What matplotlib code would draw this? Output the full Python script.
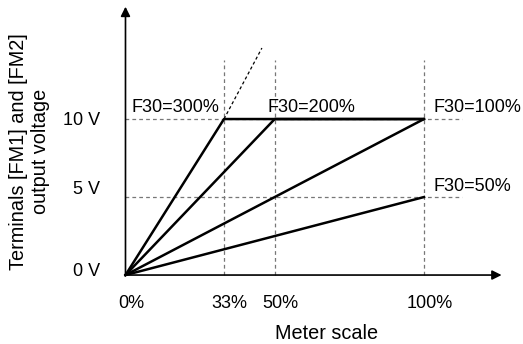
import matplotlib
matplotlib.use("Agg")
from matplotlib import pyplot as plt

plt.rcParams["font.family"] = ["Liberation Sans", "DejaVu Sans"]

# meter scale (%) vs output voltage (V) for each F30 setting
ticks_x = [0, 33, 50, 100]
tick_labels_x = ["0%", "33%", "50%", "100%"]
ticks_y = [0, 5, 10]
tick_labels_y = ["0 V", "5 V", "10 V"]

f30_300_x = [0, 33, 100]
f30_300_y = [0, 10, 10]
f30_300_ext_x = [33, 45.7]
f30_300_ext_y = [10, 14.55]
f30_200_x = [0, 50, 100]
f30_200_y = [0, 10, 10]
f30_100_x = [0, 100]
f30_100_y = [0, 10]
f30_50_x = [0, 100]
f30_50_y = [0, 5]

fig = plt.figure(figsize=(5.23, 3.44), dpi=100)
ax = fig.add_axes([0, 0, 1, 1])
ax.set_xlim(-42.04, 133.17)
ax.set_ylim(-4.42, 17.63)
ax.axis("off")

# dashed guide lines
grey = "#777777"
for v in [5, 10]:
    ax.plot([0, 112.8], [v, v], color=grey, lw=0.9, ls=(0, (3, 2.5)))
for t in [33, 50, 100]:
    ax.plot([t, t], [0, 13.8], color=grey, lw=0.9, ls=(0, (3, 2.5)))

# axes with arrows
ax.annotate("", xy=(126, 0), xytext=(0, 0),
            arrowprops=dict(arrowstyle="-|>", lw=1.2, color="k",
                            mutation_scale=14, shrinkA=0, shrinkB=0))
ax.annotate("", xy=(0, 17.2), xytext=(0, 0),
            arrowprops=dict(arrowstyle="-|>", lw=1.2, color="k",
                            mutation_scale=14, shrinkA=0, shrinkB=0))

lw = 1.8
ax.plot(f30_300_x, f30_300_y, color="k", lw=lw, solid_capstyle="butt")
ax.plot(f30_300_ext_x, f30_300_ext_y, color="k", lw=0.9, ls=(0, (2.5, 2)))
ax.plot(f30_200_x, f30_200_y, color="k", lw=lw)
ax.plot(f30_100_x, f30_100_y, color="k", lw=lw)
ax.plot(f30_50_x, f30_50_y, color="k", lw=lw)

fs = 13
for t, lab in zip(ticks_x, tick_labels_x):
    ax.text(t + 1.8, -1.8, lab, ha="center", va="center", fontsize=fs)
for v, yp, lab in zip(ticks_y, [0.2, 5.5, 9.9], tick_labels_y):
    ax.text(-8.5, yp, lab, ha="right", va="center", fontsize=fs)

ax.text(67.5, -3.72, "Meter scale", ha="center", va="center", fontsize=14.3)
ax.text(-32, 7.9, "Terminals [FM1] and [FM2]\noutput voltage", ha="center",
        va="center", rotation=90, fontsize=14.3, linespacing=1.2)

ax.text(16.6, 10.77, "F30=300%", ha="center", va="center", fontsize=fs)
ax.text(47.7, 10.77, "F30=200%", ha="left", va="center", fontsize=fs)
ax.text(103.3, 10.77, "F30=100%", ha="left", va="center", fontsize=fs)
ax.text(103.3, 5.7, "F30=50%", ha="left", va="center", fontsize=fs)

fig.savefig("out.png", dpi=100)
